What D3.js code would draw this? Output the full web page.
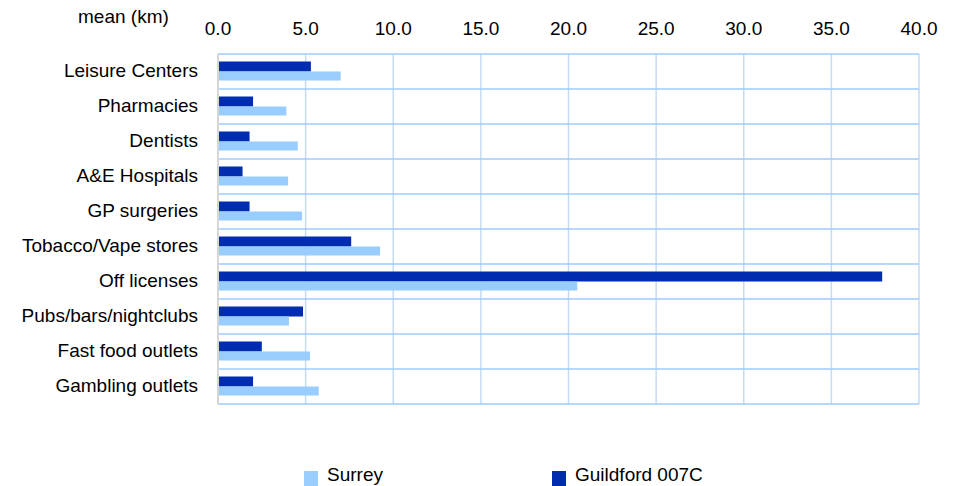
<!DOCTYPE html>
<html>
<head>
<meta charset="utf-8">
<script src="https://cdn.jsdelivr.net/npm/d3@7"></script>
<style>
  body { margin: 0; background: #fff; }
  svg text { font-family: "Liberation Sans", Arial, sans-serif; font-size: 19px; fill: #000; }
</style>
</head>
<body>
<svg id="chart" width="957" height="486"></svg>
<script>
var categories = ["Leisure Centers", "Pharmacies", "Dentists", "A&E Hospitals", "GP surgeries",
    "Tobacco/Vape stores", "Off licenses", "Pubs/bars/nightclubs", "Fast food outlets", "Gambling outlets"];
var guildford = [5.3, 2.0, 1.8, 1.4, 1.8, 7.6, 37.9, 4.85, 2.5, 2.0];
var surrey = [7.0, 3.9, 4.55, 4.0, 4.8, 9.25, 20.5, 4.05, 5.25, 5.75];
var tickValues = [0, 5, 10, 15, 20, 25, 30, 35, 40];

var svg = d3.select("#chart");
var margin = { left: 218, right: 38, top: 54, bottom: 82 };
var width = 957 - margin.left - margin.right;
var height = 486 - margin.top - margin.bottom;

var x = d3.scaleLinear().domain([0, 40]).range([0, width]);
var y = d3.scaleBand().domain(categories).range([0, height]);

var g = svg.append("g").attr("transform", "translate(" + margin.left + "," + margin.top + ")");

// vertical gridlines
g.selectAll(".vgrid").data(tickValues.slice(1)).enter().append("line")
    .attr("x1", d => x(d)).attr("x2", d => x(d))
    .attr("y1", 0).attr("y2", height)
    .attr("stroke", "#c6dbf2").attr("stroke-width", 1.5);

// horizontal band lines
g.selectAll(".hgrid").data(d3.range(categories.length + 1)).enter().append("line")
    .attr("x1", 0).attr("x2", width)
    .attr("y1", d => d * y.step()).attr("y2", d => d * y.step())
    .attr("stroke", "#9ecbfb").attr("stroke-width", 1.5);

// left axis line
g.append("line").attr("x1", 0).attr("x2", 0).attr("y1", 0).attr("y2", height)
    .attr("stroke", "#d6d6d6").attr("stroke-width", 2);

var barH = 10;
// Guildford (dark) on top, Surrey (light) below
g.selectAll(".bar-g").data(categories).enter().append("rect")
    .attr("x", 1)
    .attr("y", d => y(d) + y.bandwidth() / 2 - barH)
    .attr("width", (d, i) => x(guildford[i]) - 1)
    .attr("height", barH)
    .attr("fill", "#002db0");

g.selectAll(".bar-s").data(categories).enter().append("rect")
    .attr("x", 1)
    .attr("y", d => y(d) + y.bandwidth() / 2)
    .attr("width", (d, i) => x(surrey[i]) - 1)
    .attr("height", barH - 1)
    .attr("fill", "#99ccff");

// category labels
g.selectAll(".cat").data(categories).enter().append("text")
    .attr("x", -20)
    .attr("y", d => y(d) + y.bandwidth() / 2)
    .attr("text-anchor", "end")
    .attr("dominant-baseline", "middle")
    .text(d => d);

// top tick labels
g.selectAll(".tick").data(tickValues).enter().append("text")
    .attr("x", d => x(d))
    .attr("y", -19)
    .attr("text-anchor", "middle")
    .text(d => d3.format(".1f")(d));

svg.append("text").attr("x", 78).attr("y", 23).text("mean (km)");

// legend
var legend = [{ name: "Surrey", color: "#99ccff", x: 304 }, { name: "Guildford 007C", color: "#002db0", x: 552 }];
var lg = svg.selectAll(".legend").data(legend).enter().append("g");
lg.append("rect").attr("x", d => d.x).attr("y", 471).attr("width", 14).attr("height", 15)
    .attr("fill", d => d.color);
lg.append("text").attr("x", d => d.x + 23).attr("y", 481).text(d => d.name);
</script>
</body>
</html>
